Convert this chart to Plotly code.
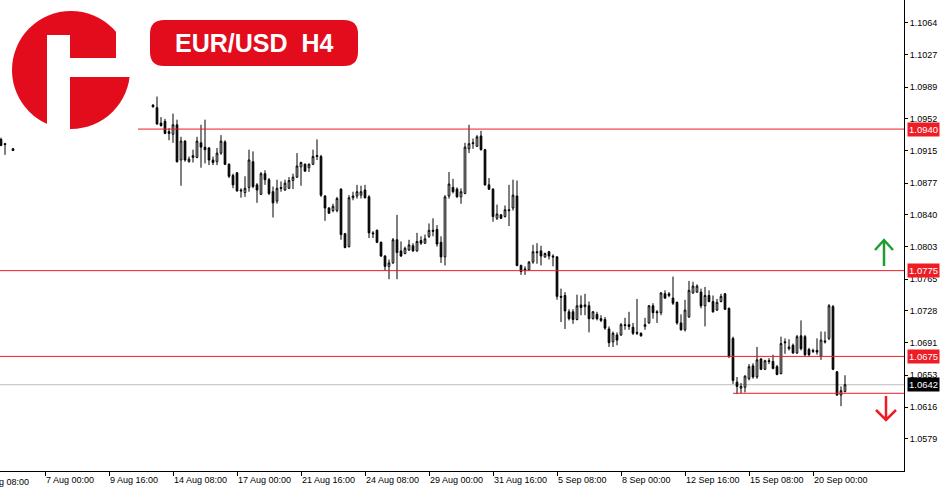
import plotly.graph_objects as go

# ---------------- data (EUR/USD H4, bar index 0 = 7 Aug 00:00) ----------------
bar_index = [-11, -10, -8] + list(range(27, 201))

open_ = [1.0928, 1.0923, 1.0917,
    1.0968, 1.0965, 1.0947, 1.0949, 1.0937, 1.0934, 1.0945, 1.0904, 1.0926, 1.0902,
    1.0907, 1.0907, 1.0924, 1.0919, 1.0918, 1.0904, 1.0902, 1.0912, 1.0925, 1.0899,
    1.0886, 1.0889, 1.0869, 1.0866, 1.0872, 1.0902, 1.0875, 1.0864, 1.0888, 1.0881,
    1.0867, 1.0856, 1.0872, 1.0869, 1.0871, 1.0880, 1.0884, 1.0896, 1.0899, 1.0895,
    1.0899, 1.0908, 1.0908, 1.0862, 1.0848, 1.0845, 1.0845, 1.0870, 1.0818, 1.0803,
    1.0860, 1.0862, 1.0863, 1.0869, 1.0861, 1.0819, 1.0822, 1.0808, 1.0792, 1.0780,
    1.0784, 1.0811, 1.0798, 1.0795, 1.0799, 1.0804, 1.0798, 1.0810, 1.0807, 1.0815,
    1.0822, 1.0823, 1.0808, 1.0791, 1.0862, 1.0872, 1.0870, 1.0861, 1.0865, 1.0917,
    1.0923, 1.0920, 1.0932, 1.0916, 1.0875, 1.0870, 1.0836, 1.0840, 1.0838, 1.0846,
    1.0848, 1.0862, 1.0781, 1.0777, 1.0776, 1.0785, 1.0797, 1.0798, 1.0791, 1.0797,
    1.0792, 1.0791, 1.0745, 1.0746, 1.0727, 1.0727, 1.0718, 1.0735, 1.0733, 1.0734,
    1.0719, 1.0724, 1.0719, 1.0718, 1.0707, 1.0692, 1.0700, 1.0700, 1.0712, 1.0712,
    1.0709, 1.0703, 1.0702, 1.0710, 1.0714, 1.0734, 1.0727, 1.0726, 1.0748, 1.0746,
    1.0743, 1.0738, 1.0714, 1.0706, 1.0721, 1.0749, 1.0750, 1.0750, 1.0734, 1.0746,
    1.0739, 1.0729, 1.0739, 1.0748, 1.0731, 1.0696, 1.0645, 1.0638, 1.0639, 1.0649,
    1.0664, 1.0651, 1.0672, 1.0660, 1.0670, 1.0669, 1.0663, 1.0655, 1.0692, 1.0684,
    1.0688, 1.0679, 1.0699, 1.0698, 1.0683, 1.0682, 1.0682, 1.0675, 1.0693, 1.0696,
    1.0733, 1.0657, 1.0630, 1.0634]

high = [1.0930, 1.0924, 1.0918,
    1.0969, 1.0978, 1.0954, 1.0952, 1.0941, 1.0958, 1.0951, 1.0931, 1.0927, 1.0908,
    1.0916, 1.0931, 1.0945, 1.0951, 1.0919, 1.0908, 1.0918, 1.0933, 1.0927, 1.0900,
    1.0888, 1.0890, 1.0871, 1.0885, 1.0916, 1.0914, 1.0877, 1.0890, 1.0892, 1.0883,
    1.0873, 1.0881, 1.0879, 1.0881, 1.0884, 1.0888, 1.0912, 1.0902, 1.0900, 1.0900,
    1.0916, 1.0928, 1.0910, 1.0863, 1.0849, 1.0853, 1.0861, 1.0871, 1.0819, 1.0863,
    1.0867, 1.0875, 1.0874, 1.0875, 1.0863, 1.0821, 1.0823, 1.0809, 1.0793, 1.0788,
    1.0813, 1.0840, 1.0809, 1.0803, 1.0811, 1.0807, 1.0819, 1.0815, 1.0817, 1.0830,
    1.0836, 1.0828, 1.0815, 1.0863, 1.0890, 1.0882, 1.0872, 1.0871, 1.0924, 1.0945,
    1.0929, 1.0933, 1.0938, 1.0917, 1.0883, 1.0871, 1.0852, 1.0841, 1.0851, 1.0875,
    1.0881, 1.0880, 1.0782, 1.0780, 1.0786, 1.0805, 1.0807, 1.0804, 1.0796, 1.0798,
    1.0794, 1.0792, 1.0754, 1.0750, 1.0730, 1.0730, 1.0747, 1.0746, 1.0748, 1.0739,
    1.0728, 1.0727, 1.0723, 1.0721, 1.0710, 1.0704, 1.0703, 1.0714, 1.0720, 1.0727,
    1.0714, 1.0742, 1.0703, 1.0720, 1.0735, 1.0737, 1.0729, 1.0750, 1.0752, 1.0750,
    1.0768, 1.0739, 1.0724, 1.0741, 1.0763, 1.0762, 1.0759, 1.0754, 1.0756, 1.0752,
    1.0746, 1.0742, 1.0748, 1.0749, 1.0732, 1.0698, 1.0651, 1.0644, 1.0653, 1.0666,
    1.0667, 1.0686, 1.0673, 1.0671, 1.0673, 1.0677, 1.0665, 1.0698, 1.0696, 1.0695,
    1.0690, 1.0700, 1.0717, 1.0700, 1.0685, 1.0684, 1.0696, 1.0704, 1.0704, 1.0736,
    1.0735, 1.0658, 1.0640, 1.0653]

low = [1.0920, 1.0910, 1.0915,
    1.0965, 1.0945, 1.0943, 1.0934, 1.0927, 1.0924, 1.0901, 1.0874, 1.0902, 1.0901,
    1.0901, 1.0906, 1.0895, 1.0900, 1.0898, 1.0898, 1.0898, 1.0910, 1.0898, 1.0883,
    1.0871, 1.0867, 1.0860, 1.0861, 1.0867, 1.0871, 1.0854, 1.0863, 1.0875, 1.0863,
    1.0837, 1.0853, 1.0867, 1.0868, 1.0870, 1.0870, 1.0883, 1.0874, 1.0890, 1.0890,
    1.0898, 1.0904, 1.0861, 1.0833, 1.0841, 1.0843, 1.0843, 1.0811, 1.0801, 1.0802,
    1.0857, 1.0859, 1.0859, 1.0859, 1.0813, 1.0813, 1.0807, 1.0791, 1.0775, 1.0765,
    1.0783, 1.0765, 1.0791, 1.0794, 1.0798, 1.0797, 1.0797, 1.0805, 1.0806, 1.0813,
    1.0815, 1.0803, 1.0784, 1.0781, 1.0859, 1.0865, 1.0860, 1.0853, 1.0864, 1.0912,
    1.0917, 1.0919, 1.0915, 1.0874, 1.0869, 1.0832, 1.0834, 1.0835, 1.0837, 1.0827,
    1.0845, 1.0780, 1.0770, 1.0770, 1.0775, 1.0783, 1.0783, 1.0781, 1.0790, 1.0788,
    1.0780, 1.0741, 1.0715, 1.0707, 1.0717, 1.0713, 1.0717, 1.0723, 1.0723, 1.0703,
    1.0718, 1.0717, 1.0715, 1.0706, 1.0686, 1.0686, 1.0688, 1.0699, 1.0706, 1.0706,
    1.0700, 1.0700, 1.0698, 1.0706, 1.0713, 1.0719, 1.0714, 1.0723, 1.0742, 1.0744,
    1.0735, 1.0712, 1.0705, 1.0704, 1.0720, 1.0748, 1.0749, 1.0731, 1.0710, 1.0738,
    1.0726, 1.0728, 1.0738, 1.0729, 1.0673, 1.0643, 1.0631, 1.0632, 1.0633, 1.0647,
    1.0649, 1.0649, 1.0659, 1.0659, 1.0666, 1.0660, 1.0653, 1.0654, 1.0678, 1.0682,
    1.0678, 1.0678, 1.0682, 1.0675, 1.0675, 1.0679, 1.0677, 1.0671, 1.0690, 1.0694,
    1.0659, 1.0629, 1.0617, 1.0633]

close = [1.0921, 1.0922, 1.0915,
    1.0966, 1.0946, 1.0944, 1.0935, 1.0935, 1.0945, 1.0902, 1.0926, 1.0904, 1.0905,
    1.0909, 1.0926, 1.0919, 1.0916, 1.0904, 1.0901, 1.0912, 1.0926, 1.0899, 1.0885,
    1.0875, 1.0868, 1.0868, 1.0871, 1.0904, 1.0873, 1.0869, 1.0888, 1.0881, 1.0865,
    1.0854, 1.0871, 1.0871, 1.0877, 1.0880, 1.0884, 1.0897, 1.0901, 1.0891, 1.0899,
    1.0908, 1.0909, 1.0863, 1.0848, 1.0842, 1.0850, 1.0859, 1.0817, 1.0802, 1.0860,
    1.0862, 1.0867, 1.0867, 1.0860, 1.0819, 1.0818, 1.0808, 1.0792, 1.0780, 1.0784,
    1.0811, 1.0796, 1.0792, 1.0801, 1.0805, 1.0798, 1.0809, 1.0807, 1.0812, 1.0822,
    1.0821, 1.0806, 1.0791, 1.0861, 1.0876, 1.0867, 1.0861, 1.0867, 1.0919, 1.0923,
    1.0924, 1.0931, 1.0916, 1.0875, 1.0870, 1.0838, 1.0841, 1.0836, 1.0846, 1.0845,
    1.0863, 1.0781, 1.0774, 1.0776, 1.0785, 1.0797, 1.0796, 1.0792, 1.0795, 1.0792,
    1.0791, 1.0745, 1.0744, 1.0728, 1.0719, 1.0718, 1.0734, 1.0732, 1.0735, 1.0719,
    1.0727, 1.0719, 1.0717, 1.0708, 1.0691, 1.0702, 1.0694, 1.0712, 1.0711, 1.0710,
    1.0702, 1.0702, 1.0699, 1.0712, 1.0734, 1.0726, 1.0726, 1.0749, 1.0743, 1.0748,
    1.0737, 1.0714, 1.0706, 1.0729, 1.0752, 1.0757, 1.0757, 1.0734, 1.0746, 1.0739,
    1.0727, 1.0738, 1.0745, 1.0730, 1.0675, 1.0647, 1.0640, 1.0640, 1.0652, 1.0663,
    1.0651, 1.0671, 1.0660, 1.0670, 1.0669, 1.0661, 1.0654, 1.0690, 1.0691, 1.0686,
    1.0679, 1.0698, 1.0684, 1.0677, 1.0677, 1.0681, 1.0680, 1.0694, 1.0692, 1.0734,
    1.0660, 1.0630, 1.0635, 1.0642]

x_tick_index = [0, 16, 32, 48, 64, 80, 96, 112, 128, 144, 160, 176, 192]
x_tick_labels = ["7 Aug 00:00", "9 Aug 16:00", "14 Aug 08:00", "17 Aug 00:00",
                 "21 Aug 16:00", "24 Aug 08:00", "29 Aug 00:00", "31 Aug 16:00",
                 "5 Sep 08:00", "8 Sep 00:00", "12 Sep 16:00", "15 Sep 08:00",
                 "20 Sep 00:00"]
first_label = "2 Aug 08:00"

y_ticks = [1.1064, 1.1027, 1.0989, 1.0952, 1.0915, 1.0877, 1.0840, 1.0803,
           1.0765, 1.0728, 1.0691, 1.0653, 1.0616, 1.0579]

resistance = 1.0940      # line starting at bar 23
levels = [1.0775, 1.0675]
current_price = 1.0642
support_low = 1.0632     # short line from bar 172
title = "EUR/USD\u00a0\u00a0H4"

# ---------------- layout helpers ----------------
W, H = 950, 500
ML, MR, MT, MB = 0, 46, 0, 29
PW, PH = W - ML - MR, H - MT - MB
X_RANGE = [-11.25, 214.75]
Y_RANGE = [1.05414, 1.10905]

RED = "#ee1c25"
LOGO_RED = "#e30c1c"
GREEN = "#1f9d31"
FONT = "Liberation Sans"


def px(x):
    return (x - ML) / PW


def py(y):
    return 1 - (y - MT) / PH


def pt(x, y):
    return f"{px(x):.5f},{py(y):.5f}"


fig = go.Figure()
fig.add_trace(go.Candlestick(
    x=bar_index, open=open_, high=high, low=low, close=close,
    increasing=dict(line=dict(color="black", width=1), fillcolor="white"),
    decreasing=dict(line=dict(color="black", width=1), fillcolor="black"),
    whiskerwidth=0, hoverinfo="skip", showlegend=False,
))

shapes = []
# current price (grey, below candles)
shapes.append(dict(type="line", xref="paper", yref="y", x0=0, x1=1,
                   y0=current_price, y1=current_price,
                   line=dict(color="#bdbdbd", width=1), layer="below"))
# resistance line
shapes.append(dict(type="line", xref="x", yref="y", x0=23.25, x1=X_RANGE[1],
                   y0=resistance, y1=resistance,
                   line=dict(color=RED, width=1), layer="above"))
for lv in levels:
    shapes.append(dict(type="line", xref="paper", yref="y", x0=0, x1=1,
                       y0=lv, y1=lv, line=dict(color=RED, width=1), layer="above"))
shapes.append(dict(type="line", xref="x", yref="y", x0=172, x1=X_RANGE[1],
                   y0=support_low, y1=support_low,
                   line=dict(color=RED, width=1), layer="above"))

# logo: red disc with white cut-outs forming an "F"
shapes.append(dict(type="circle", xref="paper", yref="paper",
                   x0=px(12), x1=px(130), y0=py(129), y1=py(11),
                   fillcolor=LOGO_RED, line=dict(width=0), layer="above"))
for (x0, y0, x1, y1) in [(47, 35, 70, 135), (70, 58, 135, 77), (116, 0, 135, 58)]:
    shapes.append(dict(type="rect", xref="paper", yref="paper",
                       x0=px(x0), x1=px(x1), y0=py(y1), y1=py(y0),
                       fillcolor="white", line=dict(width=0), layer="above"))

# title badge (rounded rectangle)
bx0, by0, bx1, by1, r = 150, 20, 358, 66, 14
badge = (f"M {pt(bx0 + r, by0)} L {pt(bx1 - r, by0)} Q {pt(bx1, by0)} {pt(bx1, by0 + r)} "
         f"L {pt(bx1, by1 - r)} Q {pt(bx1, by1)} {pt(bx1 - r, by1)} "
         f"L {pt(bx0 + r, by1)} Q {pt(bx0, by1)} {pt(bx0, by1 - r)} "
         f"L {pt(bx0, by0 + r)} Q {pt(bx0, by0)} {pt(bx0 + r, by0)} Z")
shapes.append(dict(type="path", xref="paper", yref="paper", path=badge,
                   fillcolor=LOGO_RED, line=dict(width=0), layer="above"))

# arrows
up = f"M {pt(884, 266)} L {pt(884, 240)} M {pt(875, 250)} L {pt(884, 240)} L {pt(893, 250)}"
down = f"M {pt(886, 396)} L {pt(886, 420)} M {pt(876, 410)} L {pt(886, 420)} L {pt(896, 410)}"
shapes.append(dict(type="path", xref="paper", yref="paper", path=up,
                   line=dict(color=GREEN, width=2.5), layer="above"))
shapes.append(dict(type="path", xref="paper", yref="paper", path=down,
                   line=dict(color=RED, width=2.5), layer="above"))

annotations = []
annotations.append(dict(xref="paper", yref="paper", x=px(254), y=py(43),
                        text=f"<b>{title}</b>", showarrow=False,
                        font=dict(family=FONT, size=25, color="white"),
                        xanchor="center", yanchor="middle"))
for lv, bg in [(resistance, RED), (levels[0], RED), (levels[1], RED), (current_price, "black")]:
    annotations.append(dict(xref="paper", yref="y", x=1, y=lv, xanchor="left",
                            yanchor="middle", xshift=3, text=f"{lv:.4f}",
                            showarrow=False, bgcolor=bg, borderpad=1,
                            font=dict(family=FONT, size=9.5, color="white")))
annotations.append(dict(xref="paper", yref="paper", x=0, y=0, xanchor="left",
                        yanchor="top", xshift=-21, yshift=-4, text=first_label,
                        showarrow=False, font=dict(family=FONT, size=9, color="black")))

fig.update_layout(
    width=W, height=H,
    margin=dict(l=ML, r=MR, t=MT, b=MB),
    paper_bgcolor="white", plot_bgcolor="white",
    showlegend=False, boxgap=0.4,
    font=dict(family=FONT, size=9, color="black"),
    shapes=shapes, annotations=annotations,
    xaxis=dict(range=X_RANGE, rangeslider=dict(visible=False),
               tickvals=x_tick_index, ticktext=x_tick_labels,
               ticklabelposition="outside right",
               ticks="outside", ticklen=4, tickcolor="black", tickwidth=1,
               showline=True, linecolor="black", linewidth=1,
               showgrid=False, zeroline=False,
               tickfont=dict(family=FONT, size=9, color="black")),
    yaxis=dict(range=Y_RANGE, side="right",
               tickvals=y_ticks, ticktext=[f"{v:.4f}" for v in y_ticks],
               ticks="outside", ticklen=3, tickcolor="black", tickwidth=1,
               showline=True, linecolor="black", linewidth=1,
               showgrid=False, zeroline=False,
               tickfont=dict(family=FONT, size=9, color="black")),
)

fig.write_html("out.html", config={"displayModeBar": False},
               post_script="document.body.style.margin='0';")
